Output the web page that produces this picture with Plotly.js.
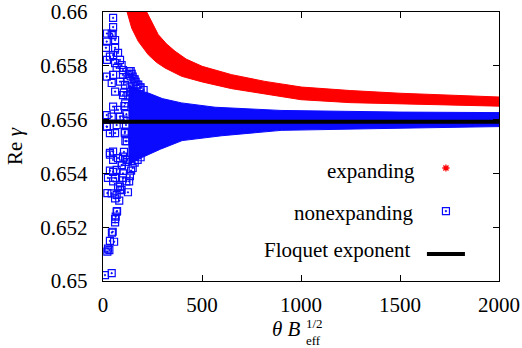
<!DOCTYPE html>
<html>
<head>
<meta charset="utf-8">
<script src="https://cdn.plot.ly/plotly-3.0.1.min.js"></script>
<style>html,body{margin:0;padding:0;background:#fff;}#chart{width:522px;height:348px;}</style>
</head>
<body>
<div id="chart"></div>
<script>
// ---- data ----
// expanding: band envelope (upper / lower edge of the red point cloud)
const redUpperX = [200, 220, 250, 279, 320, 364, 420, 501, 650, 818, 1003, 1250, 1500, 1750, 2000];
const redUpperY = [0.6603, 0.6600, 0.65955, 0.65916, 0.65882, 0.65854, 0.65825, 0.65798, 0.65767, 0.65742, 0.65721, 0.65708, 0.65698, 0.65691, 0.65684];
const redLowerX = [110, 120, 145, 178, 229, 270, 313, 397, 501, 650, 818, 1000, 1250, 1500, 1750, 2000];
const redLowerY = [0.6603, 0.6600, 0.6594, 0.65891, 0.65841, 0.65813, 0.65792, 0.65761, 0.6574, 0.65715, 0.65695, 0.65674, 0.65663, 0.65658, 0.65654, 0.6565];

// nonexpanding: dense band envelope
const blueUpperX = [128, 160, 200, 229, 300, 397, 566, 900, 1500, 2000];
const blueUpperY = [0.6573, 0.6572, 0.65705, 0.65699, 0.65678, 0.65662, 0.65646, 0.65634, 0.65628, 0.65626];
const blueLowerX = [128, 150, 200, 290, 400, 600, 900, 1500, 2000];
const blueLowerY = [0.6543, 0.6544, 0.6546, 0.6549, 0.65522, 0.6554, 0.6556, 0.65568, 0.65574];

// nonexpanding: scattered individual points at small theta
const blueScatterX = [51, 51, 44, 49, 19, 61, 15, 61, 76, 35, 51, 86, 61, 94, 69, 101, 19, 51, 101, 44,
  86, 111, 61, 101, 51, 76, 19, 44, 86, 19, 69, 35, 61, 111, 51, 35, 76, 101, 119, 94,
  51, 69, 25, 61, 101, 86, 76, 94, 44, 69, 61, 82, 69, 64, 61, 49, 35, 56, 32, 22,
  10, 44, 20, 20, 20, 22, 35, 51, 96, 35, 51, 86, 71, 61, 45, 25, 101, 121,
  140, 150, 160, 130, 170, 185, 124, 133, 145, 155, 165, 178, 190, 205,
  105, 112, 118, 128, 138, 108, 104, 110, 116, 120,
  106, 113, 118, 122, 126, 132, 136, 142, 150, 160, 175, 190];
const blueScatterY = [0.65978, 0.65944, 0.6592, 0.65914, 0.6589, 0.65896, 0.65867, 0.65867, 0.65848, 0.65834, 0.6584, 0.65822, 0.6581, 0.65803, 0.65792, 0.65784, 0.6576, 0.65766, 0.65766, 0.65736,
  0.65741, 0.65729, 0.65704, 0.65691, 0.65648, 0.65636, 0.65617, 0.65611, 0.65611, 0.65574, 0.6558, 0.6555, 0.6555, 0.65555, 0.65481, 0.65476, 0.65457, 0.65462, 0.65443, 0.65431,
  0.65406, 0.65413, 0.65383, 0.65383, 0.65383, 0.65351, 0.65351, 0.65338, 0.65326, 0.6532, 0.65307, 0.65299, 0.65258, 0.65239, 0.65218, 0.65183, 0.65149, 0.65146, 0.65115, 0.65109,
  0.65022, 0.65029, 0.6592, 0.65822, 0.65573, 0.65327, 0.6547, 0.6545, 0.6543, 0.6541, 0.6537, 0.6534, 0.6526, 0.6523, 0.6518, 0.6512, 0.6540, 0.6545,
  0.6578, 0.6576, 0.6575, 0.6577, 0.6573, 0.6572, 0.6575, 0.6578, 0.6577, 0.6575, 0.6574, 0.6573, 0.6572, 0.6571,
  0.6570, 0.6566, 0.6562, 0.6569, 0.6572, 0.6565, 0.6560, 0.6555, 0.6558, 0.6552,
  0.6548, 0.6552, 0.6537, 0.6545, 0.6533, 0.6537, 0.6539, 0.6541, 0.6542, 0.6544, 0.6545, 0.6546];

// Floquet exponent (constant)
const floquetX = [0, 2000];
const floquetY = [0.65592, 0.65592];

// axes
const xTickVals = [0, 500, 1000, 1500, 2000];
const xTickText = ['0', '500', '1000', '1500', '2000'];
const yTickVals = [0.65, 0.652, 0.654, 0.656, 0.658, 0.66];
const yTickText = ['0.65', '0.652', '0.654', '0.656', '0.658', '0.66'];

// legend labels
const seriesNames = ['expanding', 'nonexpanding', 'Floquet exponent'];

// ---- build ----
const RED = 'rgb(255,0,0)';
const BLUE = 'rgb(10,10,255)';
const FONT = 'Liberation Serif, Times New Roman, serif';

const redPolyX = redUpperX.concat(redLowerX.slice().reverse());
const redPolyY = redUpperY.concat(redLowerY.slice().reverse());
const bluePolyX = blueUpperX.concat(blueLowerX.slice().reverse());
const bluePolyY = blueUpperY.concat(blueLowerY.slice().reverse());

const traces = [
  {x: redPolyX, y: redPolyY, mode: 'lines', fill: 'toself', fillcolor: RED,
   line: {color: RED, width: 1}, showlegend: false, hoverinfo: 'skip', name: seriesNames[0]},
  {x: bluePolyX, y: bluePolyY, mode: 'lines', fill: 'toself', fillcolor: BLUE,
   line: {color: BLUE, width: 1}, showlegend: false, hoverinfo: 'skip', name: seriesNames[1]},
  {x: blueScatterX, y: blueScatterY, mode: 'markers', showlegend: false, name: seriesNames[1],
   marker: {symbol: 'square-open-dot', size: 7, color: BLUE, line: {color: BLUE, width: 1.2}}},
  {x: floquetX, y: floquetY, mode: 'lines', showlegend: false, name: seriesNames[2],
   line: {color: 'black', width: 4}},
  // legend keys on an overlay paper-like axis
  {x: [0.866], y: [0.420], xaxis: 'x2', yaxis: 'y2', mode: 'markers', showlegend: false, hoverinfo: 'skip',
   marker: {symbol: 'asterisk-open', size: 6, color: RED, line: {color: RED, width: 1.3}}},
  {x: [0.866], y: [0.260], xaxis: 'x2', yaxis: 'y2', mode: 'markers', showlegend: false, hoverinfo: 'skip',
   marker: {symbol: 'square-open-dot', size: 7, color: BLUE, line: {color: BLUE, width: 1.2}}},
  {x: [0.818, 0.914], y: [0.100, 0.100], xaxis: 'x2', yaxis: 'y2', mode: 'lines', showlegend: false, hoverinfo: 'skip',
   line: {color: 'black', width: 4}}
];

const layout = {
  width: 522, height: 348,
  margin: {l: 103, r: 23, t: 12, b: 67},
  paper_bgcolor: 'white', plot_bgcolor: 'white',
  font: {family: FONT, size: 21, color: 'black'},
  showlegend: false,
  xaxis: {
    range: [0, 2000], tickvals: xTickVals, ticktext: xTickText,
    ticks: 'inside', ticklen: 6, tickwidth: 1, tickcolor: 'black',
    showline: true, linecolor: 'black', linewidth: 1.3, mirror: 'ticks',
    showgrid: false, zeroline: false, ticklabelstandoff: 4,
    tickfont: {family: FONT, size: 21, color: 'black'}
  },
  yaxis: {
    range: [0.65, 0.66], tickvals: yTickVals, ticktext: yTickText,
    ticks: 'inside', ticklen: 6, tickwidth: 1, tickcolor: 'black',
    showline: true, linecolor: 'black', linewidth: 1.3, mirror: 'ticks',
    showgrid: false, zeroline: false, ticklabelstandoff: 10,
    tickfont: {family: FONT, size: 21, color: 'black'},
    title: {text: 'Re <i>γ</i>', font: {family: FONT, size: 21, color: 'black'}, standoff: 12}
  },
  xaxis2: {overlaying: 'x', range: [0, 1], visible: false, fixedrange: true},
  yaxis2: {overlaying: 'y', range: [0, 1], visible: false, fixedrange: true},
  annotations: [
    {xref: 'paper', yref: 'paper', x: 0.793, y: 0.409, xanchor: 'right', yanchor: 'middle',
     text: seriesNames[0], showarrow: false, font: {family: FONT, size: 21, color: 'black'}},
    {xref: 'paper', yref: 'paper', x: 0.788, y: 0.253, xanchor: 'right', yanchor: 'middle',
     text: seriesNames[1], showarrow: false, font: {family: FONT, size: 21, color: 'black'}},
    {xref: 'paper', yref: 'paper', x: 0.783, y: 0.115, xanchor: 'right', yanchor: 'middle',
     text: seriesNames[2], showarrow: false, font: {family: FONT, size: 21, color: 'black'}},
    // x-axis title: θ B_eff^{1/2}
    {xref: 'paper', yref: 'paper', x: 0.505, y: -0.178, xanchor: 'right', yanchor: 'middle',
     text: '<i>θ B</i>', showarrow: false, font: {family: FONT, size: 21, color: 'black'}},
    {xref: 'paper', yref: 'paper', x: 0.509, y: -0.128, xanchor: 'left', yanchor: 'top',
     text: '1/2', showarrow: false, borderpad: 0, font: {family: FONT, size: 13, color: 'black'}},
    {xref: 'paper', yref: 'paper', x: 0.509, y: -0.190, xanchor: 'left', yanchor: 'top',
     text: 'eff', showarrow: false, borderpad: 0, font: {family: FONT, size: 13, color: 'black'}}
  ]
};

Plotly.newPlot('chart', traces, layout, {displayModeBar: false, staticPlot: true});
</script>
</body>
</html>
